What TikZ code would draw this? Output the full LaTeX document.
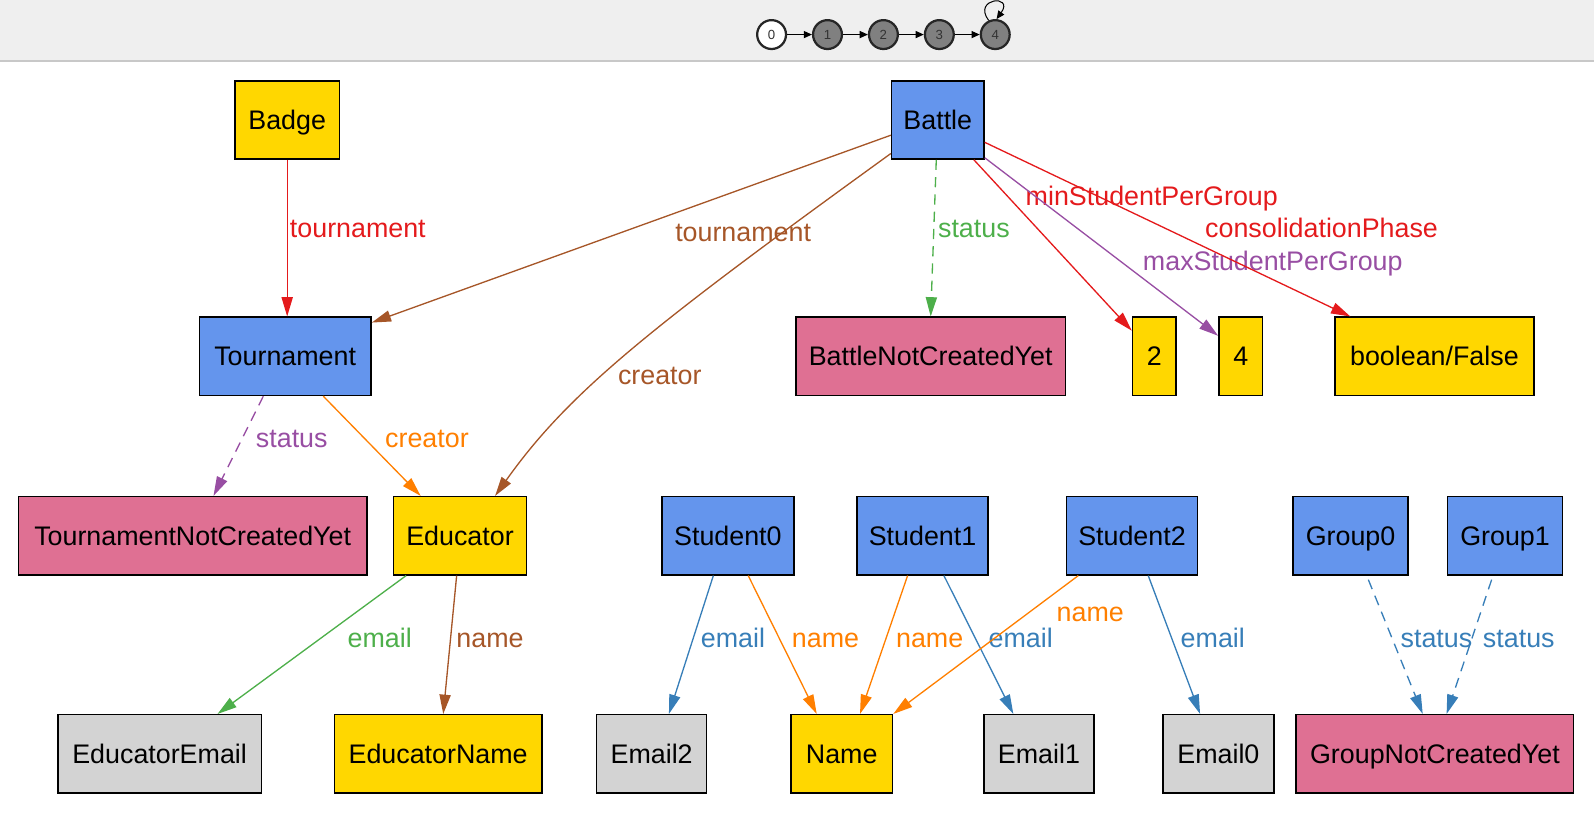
\documentclass[tikz,border=0pt]{standalone}
\usepackage{fontspec}
\setmainfont{Liberation Sans}
\usetikzlibrary{positioning, calc}
\usetikzlibrary{arrows.meta}

\begin{document}
\begin{tikzpicture}[x=0.5pt,y=-0.5pt]
\definecolor{barfill}{RGB}{239,239,239};
\definecolor{barline}{RGB}{200,200,200};
\definecolor{gold}{RGB}{255,215,0};
\definecolor{cblue}{RGB}{100,149,237};
\definecolor{pvred}{RGB}{223,112,147};
\definecolor{lgray}{RGB}{211,211,211};
\definecolor{setred}{RGB}{228,26,28};
\definecolor{setbrown}{RGB}{166,86,40};
\definecolor{setgreen}{RGB}{77,175,74};
\definecolor{setpurple}{RGB}{152,78,163};
\definecolor{setorange}{RGB}{255,127,0};
\definecolor{setblue}{RGB}{55,126,184};
\useasboundingbox (0,0) rectangle (1568,799);
% step bar on top
\fill[barfill] (0,0) rectangle (1568,60);
\draw[barline, line width=0.5pt] (0,60) -- (1568,60);
\tikzstyle{stepstate}=[draw=black!85, line width=1.1pt, shape=circle,
                   minimum size=14.2pt, inner sep=0pt,
                   font=\fontsize{6.5}{7}\selectfont, text=black!80];
\tikzstyle{tinyarrow}=[-{Triangle[length=4pt,width=3.5pt]}, line width=0.5pt];
\node[stepstate, fill=white] (s0) at (759,34) {0};
\foreach \i/\x in {1/814,2/869,3/924,4/979} {
	\node[stepstate, fill=black!50] (s\i) at (\x,34) {\i};
}
\foreach \a/\b in {0/1,1/2,2/3,3/4} {
	\draw[tinyarrow] (s\a) -- (s\b);
}
\draw[tinyarrow] (s4.115) .. controls (956,-2) and (998,-6) .. (s4.85);
% objects
\tikzstyle{box}=[draw=black, line width=0.7pt, minimum height=38.5pt,
                 inner sep=0pt, text height=9.5pt, text depth=0pt,
                 font=\fontsize{13.2}{15}\selectfont];
\node[box, fill=gold,  minimum width=51.5pt]  (badge)      at (282.5,118) {Badge};
\node[box, fill=cblue, minimum width=45.5pt]  (battle)     at (922.5,118) {Battle};
\node[box, fill=cblue, minimum width=84.5pt]  (tournament) at (280.5,350.5) {Tournament};
\node[box, fill=pvred, minimum width=132.5pt] (battleNCY)  at (915.5,350.5) {BattleNotCreatedYet};
\node[box, fill=gold,  minimum width=21.5pt]  (two)        at (1135.5,350.5) {2};
\node[box, fill=gold,  minimum width=21.5pt]  (four)       at (1220.5,350.5) {4};
\node[box, fill=gold,  minimum width=98pt]    (boolF)      at (1411,350.5) {boolean/False};
\node[box, fill=pvred, minimum width=171.5pt] (tournNCY)   at (189.5,527) {TournamentNotCreatedYet};
\node[box, fill=gold,  minimum width=65.5pt]  (educator)   at (452.5,527) {Educator};
\node[box, fill=cblue, minimum width=65pt]    (student0)   at (716,527) {Student0};
\node[box, fill=cblue, minimum width=64.5pt]  (student1)   at (907.5,527) {Student1};
\node[box, fill=cblue, minimum width=64.5pt]  (student2)   at (1113.5,527) {Student2};
\node[box, fill=cblue, minimum width=56.5pt]  (group0)     at (1328.5,527) {Group0};
\node[box, fill=cblue, minimum width=56.5pt]  (group1)     at (1480.5,527) {Group1};
\node[box, fill=lgray, minimum width=100pt]   (edEmail)    at (157,741.5) {EducatorEmail};
\node[box, fill=gold,  minimum width=102pt]   (edName)     at (431,741.5) {EducatorName};
\node[box, fill=lgray, minimum width=54pt]    (email2)     at (641,741.5) {Email2};
\node[box, fill=gold,  minimum width=50pt]    (name)       at (828,741.5) {Name};
\node[box, fill=lgray, minimum width=54pt]    (email1)     at (1022,741.5) {Email1};
\node[box, fill=lgray, minimum width=54.5pt]  (email0)     at (1198.5,741.5) {Email0};
\node[box, fill=pvred, minimum width=136.5pt] (groupNCY)   at (1411.5,741.5) {GroupNotCreatedYet};
% relations
\tikzstyle{rel}=[-{Triangle[length=9.5pt,width=5.5pt]}, line width=0.65pt];
\tikzstyle{lbl}=[anchor=base, inner sep=0pt, font=\fontsize{13.2}{15}\selectfont];
\tikzstyle{dashline}=[dash pattern=on 5pt off 3.5pt];
\draw[rel, setred] (badge.south) -- (badge.south |- tournament.north);
\node[lbl, setred] (lTournA) at (352,234) {tournament};
\draw[rel, setbrown] ([yshift=-7.5pt]battle.west) -- ([yshift=-3pt]tournament.north east);
\node[lbl, setbrown] (lTournB) at (731,238) {tournament};
\draw[rel, setbrown] ([yshift=-16.5pt]battle.west) .. controls (640,322) and (560,385) .. ([xshift=17.25pt]educator.north);
\node[lbl, setbrown] (lCreatorA) at (649,378) {creator};
\draw[rel, setgreen, dashline] ([xshift=-0.75pt]battle.south) -- (battleNCY.north);
\node[lbl, setgreen] (lStatusA) at (958,234) {status};
\draw[rel, setred] ([xshift=17.75pt]battle.south) -- ([yshift=-7pt]two.north west);
\node[lbl, setred] (lMin) at (1133,202) {minStudentPerGroup};
\draw[rel, setpurple] ([yshift=1pt]battle.south east) -- ([yshift=-9.5pt]four.north west);
\node[lbl, setpurple] (lMax) at (1252,266) {maxStudentPerGroup};
\draw[rel, setred] ([yshift=-11pt]battle.east) -- ([xshift=8pt]boolF.north west);
\node[lbl, setred] (lConsol) at (1300,234) {consolidationPhase};
\draw[rel, setpurple, dashline] ([xshift=-10.75pt]tournament.south) -- ([xshift=10.25pt]tournNCY.north);
\node[lbl, setpurple] (lStatusB) at (287,440) {status};
\draw[rel, setorange] ([xshift=18.75pt]tournament.south) -- ([xshift=-19.35pt]educator.north);
\node[lbl, setorange] (lCreatorB) at (420,440) {creator};
\draw[rel, setgreen] ([xshift=-26.5pt]educator.south) -- ([xshift=28.5pt]edEmail.north);
\node[lbl, setgreen] (lEmailE) at (373.5,637) {email};
\draw[rel, setbrown] ([xshift=-1.65pt]educator.south) -- ([xshift=2.5pt]edName.north);
\node[lbl, setbrown] (lNameE) at (482,637) {name};
\draw[rel, setblue] ([xshift=-7.15pt]student0.south) -- ([xshift=8.5pt]email2.north);
\node[lbl, setblue] (lEmail0) at (721,637) {email};
\draw[rel, setorange] ([xshift=10pt]student0.south) -- ([xshift=-12.3pt]name.north);
\node[lbl, setorange] (lName0) at (812,637) {name};
\draw[rel, setorange] ([xshift=-7.35pt]student1.south) -- ([xshift=9pt]name.north);
\node[lbl, setorange] (lName1) at (914.5,637) {name};
\draw[rel, setblue] ([xshift=10.5pt]student1.south) -- ([xshift=-12.6pt]email1.north);
\node[lbl, setblue] (lEmail1) at (1004,637) {email};
\draw[rel, setorange] ([xshift=-26.4pt]student2.south) -- (name.north east);
\node[lbl, setorange] (lName2) at (1072.5,611) {name};
\draw[rel, setblue] ([xshift=8pt]student2.south) -- ([xshift=-9pt]email0.north);
\node[lbl, setblue] (lEmail2) at (1193,637) {email};
\draw[rel, setblue, dashline] ([xshift=8.75pt,yshift=-2pt]group0.south) -- ([xshift=-6pt]groupNCY.north);
\node[lbl, setblue] (lStatusG0) at (1413,637) {status};
\draw[rel, setblue, dashline] ([xshift=-6.6pt,yshift=-2pt]group1.south) -- ([xshift=5.75pt]groupNCY.north);
\node[lbl, setblue] (lStatusG1) at (1494,637) {status};

\end{tikzpicture}
\end{document}
